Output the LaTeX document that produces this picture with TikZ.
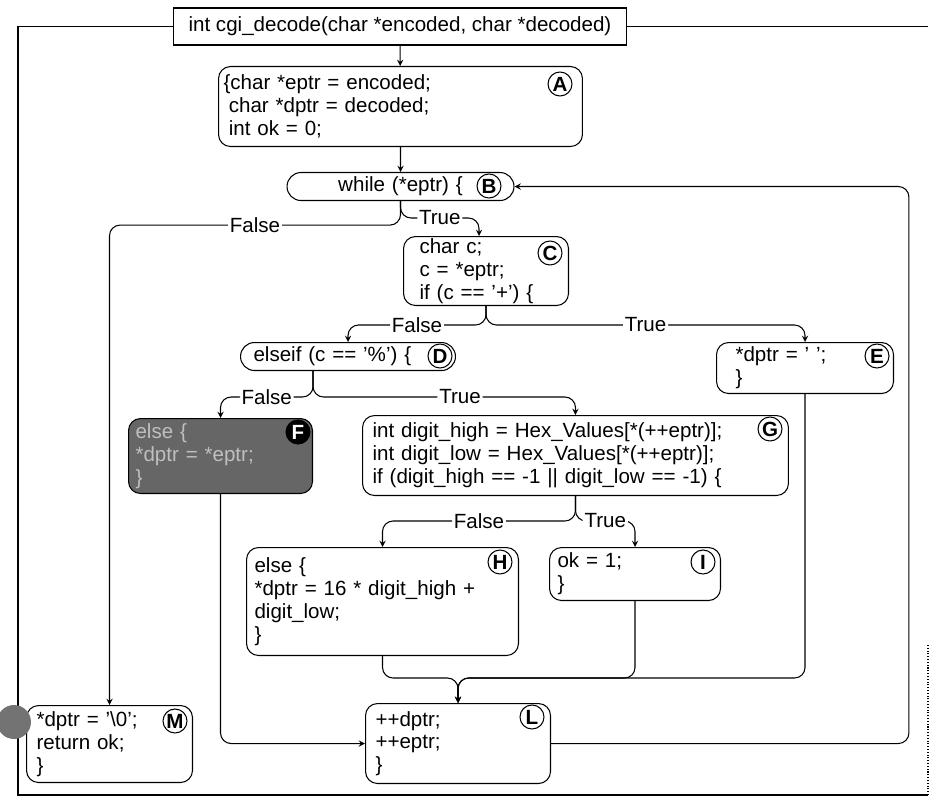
\documentclass[tikz,border=0pt]{standalone}
\usepackage{fontspec}
\setmainfont{Liberation Sans}
\usetikzlibrary{calc}
\newcommand\codefont{\fontsize{11.7pt}{13pt}\selectfont}

\begin{document}
\begin{tikzpicture}[x=0.02cm, y=-0.02cm, >=stealth, semithick,
  every node/.style={font=\codefont},
  code/.style={draw, rounded corners=0.24cm, align=left, anchor=north west, inner ysep=1pt},
  pill/.style={code, rounded corners=0.28cm, minimum height=0.56cm},
  tag/.style={draw, circle, fill=white, inner sep=0pt, minimum size=0.48cm, font=\codefont\bfseries},
  lbl/.style={fill=white, inner sep=1pt},
  flow/.style={rounded corners=6pt}]
  \useasboundingbox (0,0) rectangle (932,804);

  % function head
  \node[draw, minimum width=9.06cm, minimum height=0.74cm] (fn) at (400,26.5) {int cgi\_decode(char *encoded, char *decoded)};

  % blocks
  \node[code, text width=7.08cm, inner xsep=0.1cm, minimum height=1.6cm] (A) at (218,66) {\{char *eptr = encoded;\\\hspace*{3pt}char *dptr = decoded;\\\hspace*{3pt}int ok = 0;};
  \node[pill, align=center, text width=4.14cm, inner xsep=0.2cm] (B) at (286.5,172) {while (*eptr) \{};
  \node[code, text width=2.66cm, inner xsep=0.32cm, minimum height=1.38cm] (C) at (403,236) {char c;\\c = *eptr;\\if (c == '+') \{};
  \node[pill, text width=3.78cm, inner xsep=0.26cm] (D) at (240,342) {elseif (c == '\%') \{};
  \node[code, text width=2.78cm, inner xsep=0.38cm, minimum height=1.02cm] (E) at (716,342) {*dptr = ' ';\\\}};
  \node[code, fill=black!60, text=black!25, text width=3.40cm, inner xsep=0.14cm, minimum height=1.5cm] (F) at (128,418) {else \{\\{}*dptr = *eptr;\\\}};
  \node[code, text width=8.12cm, inner xsep=0.2cm, minimum height=1.6cm] (G) at (362,415) {int digit\_high = Hex\_Values[*(++eptr)];\\int digit\_low = Hex\_Values[*(++eptr)];\\if (digit\_high == -1 || digit\_low == -1) \{};
  \node[code, text width=5.12cm, inner xsep=0.16cm, minimum height=2.16cm] (H) at (246,547) {else \{\\{}*dptr = 16 * digit\_high +\\digit\_low;\\\}};
  \node[code, text width=3.10cm, inner xsep=0.16cm, minimum height=1.06cm] (I) at (549,547) {ok = 1;\\\}};
  \node[code, text width=3.3cm, inner xsep=0.2cm, minimum height=1.6cm] (L) at (365,703) {++dptr;\\++eptr;\\\}};
  \node[code, text width=2.92cm, inner xsep=0.2cm, minimum height=1.54cm] (M) at (26,705) {*dptr = '\textbackslash 0';\\return ok;\\\}};

  % letters
  \node[tag] (tagA) at (560,84) {A};
  \node[tag] (tagB) at (489,186) {B};
  \node[tag] (tagC) at (550,253) {C};
  \node[tag] (tagD) at (440,356) {D};
  \node[tag] (tagE) at (877,356) {E};
  \node[tag, fill=black, text=white] (tagF) at (298,432) {F};
  \node[tag] (tagG) at (770,429) {G};
  \node[tag] (tagH) at (500,562) {H};
  \node[tag] (tagI) at (703,562) {I};
  \node[tag] (tagL) at (532,717) {L};
  \node[tag] (tagM) at (175,721) {M};

  % edges
  \draw[->] (fn) -- (A);
  \draw[->] (A) -- (B);
  \draw[->, flow] (B.south) |- node[lbl, pos=0.75] {False} ([yshift=9.6cm]M.north) -- (M.north);
  \draw[->, flow] (B.south) |- node[lbl, pos=0.75] {True} ([xshift=-0.14cm, yshift=0.36cm]C.north) -- ([xshift=-0.14cm]C.north);
  \draw[->, flow] (C.south) |- node[lbl, pos=0.75] {False} ([yshift=0.34cm]D.north) -- (D.north);
  \draw[->, flow] (C.south) |- node[lbl, pos=0.75] {True} ([yshift=0.34cm]E.north) -- (E.north);
  \draw[->, flow] ([xshift=-0.7cm]D.south) |- node[lbl, pos=0.75] {False} ([yshift=0.42cm]F.north) -- (F.north);
  \draw[->, flow] ([xshift=-0.7cm]D.south) |- node[lbl, pos=0.78] {True} ([yshift=0.36cm]G.north) -- (G.north);
  \draw[->, flow] (G.south) |- node[lbl, pos=0.75] {False} ([yshift=0.52cm]H.north) -- (H.north);
  \draw[->, flow] (G.south) |- node[lbl, pos=0.75] {True} ([yshift=0.52cm]I.north) -- (I.north);
  \coordinate (merge) at ([yshift=0.5cm]L.north);
  \draw[->, flow] (H.south) |- (merge) -- (L.north);
  \draw[->, flow] (I.south) |- (merge) -- (L.north);
  \draw[->, flow] (E.south) |- (merge) -- (L.north);
  \draw[->, flow] (F.south) |- (L.west);
  \draw[->, flow] (L.east) -| ([xshift=7.89cm]B.east) -- (B.east);

  % frame
  \coordinate (frameSW) at (18,795);
  \coordinate (frameSE) at (928,795);
  \draw (fn.west) -| (frameSW) -- (frameSE);
  \draw (fn.east) -- (fn.east -| frameSE);
  \draw[densely dotted] (frameSE) -- ++(0,-150);
  \fill[black!55] (14,722) circle (0.34cm);
\end{tikzpicture}
\end{document}
